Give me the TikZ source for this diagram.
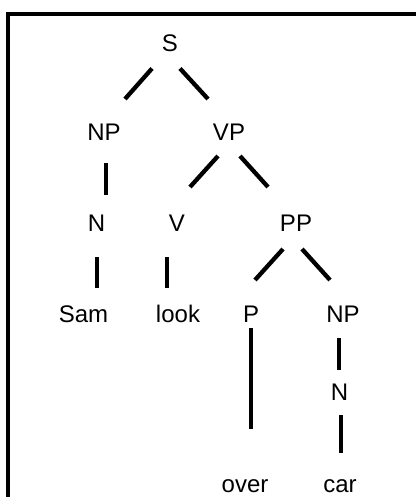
\documentclass[tikz,border=0pt]{standalone}
\usepackage{fontspec}
\setmainfont{Liberation Sans}

\tikzset{
  cat/.style={anchor=base, inner sep=0pt, font=\fontsize{24}{28}\selectfont},
  branch/.style={line width=4.3pt},
  frame/.style={line width=3.7pt},
}

\begin{document}
\begin{tikzpicture}[x=1pt, y=-1pt]
	\useasboundingbox (0,0) rectangle (416,497);
	% box round the tree, its right and bottom edges run off the page
	\draw[frame] (8,497) -- (8,13.8) -- (416,13.8);

	% categories and words
	\node[cat] (s)    at (170,51.5)  {S};
	\node[cat] (np)   at (104,141)   {NP};
	\node[cat] (vp)   at (229,141)   {VP};
	\node[cat] (n)    at (96.5,231)  {N};
	\node[cat] (v)    at (177,231)   {V};
	\node[cat] (pp)   at (296,231)   {PP};
	\node[cat] (sam)  at (83.5,322)  {Sam};
	\node[cat] (look) at (178,322)   {look};
	\node[cat] (p)    at (251,322)   {P};
	\node[cat] (np2)  at (343,322)   {NP};
	\node[cat] (n2)   at (339.5,400) {N};
	\node[cat] (over) at (245,492.5) {over};
	\node[cat] (car)  at (340,492.5) {car};

	% branches
	\draw[branch] ([shift={(-18,17)}]s.base)   -- ([shift={(21,-42)}]np.base);
	\draw[branch] ([shift={(10,17)}]s.base)    -- ([shift={(-21,-42)}]vp.base);
	\draw[branch] ([shift={(2,22)}]np.base)    -- ([shift={(9.5,-36)}]n.base);
	\draw[branch] ([shift={(-11,15)}]vp.base)  -- ([shift={(13,-44)}]v.base);
	\draw[branch] ([shift={(11,15)}]vp.base)   -- ([shift={(-28,-44)}]pp.base);
	\draw[branch] ([shift={(0.5,26)}]n.base)   -- ([shift={(13.5,-34)}]sam.base);
	\draw[branch] ([shift={(-10,26)}]v.base)   -- ([shift={(-11,-34)}]look.base);
	\draw[branch] ([shift={(-13,18)}]pp.base)  -- ([shift={(4,-42)}]p.base);
	\draw[branch] ([shift={(6,18)}]pp.base)    -- ([shift={(-13,-42)}]np2.base);
	\draw[branch] ([shift={(0,6)}]p.base)      -- ([shift={(6,-64)}]over.base);
	\draw[branch] ([shift={(-4,16)}]np2.base)  -- ([shift={(-0.5,-30)}]n2.base);
	\draw[branch] ([shift={(1.5,15)}]n2.base)  -- ([shift={(1,-40)}]car.base);
\end{tikzpicture}
\end{document}
